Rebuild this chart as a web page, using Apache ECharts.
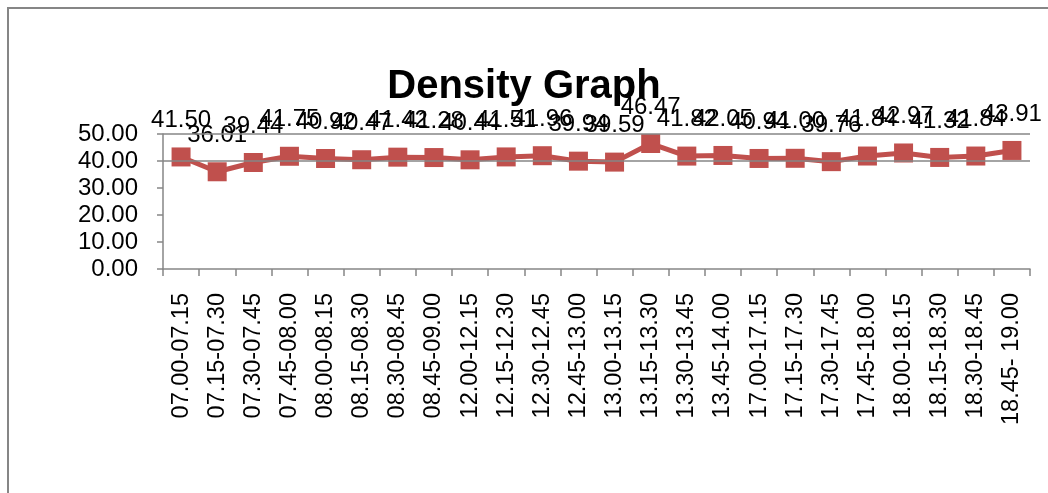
<!DOCTYPE html>
<html>
<head>
<meta charset="utf-8">
<script src="https://cdn.jsdelivr.net/npm/echarts@6/dist/echarts.min.js"></script>
<style>
  html, body { margin: 0; padding: 0; background: #fff; }
  #chart { width: 1048px; height: 493px; }
</style>
</head>
<body>
<div id="chart"></div>
<script>
// time slots on the x axis
var slots = ['07.00-07.15', '07.15-07.30', '07.30-07.45', '07.45-08.00', '08.00-08.15', '08.15-08.30',
  '08.30-08.45', '08.45-09.00', '12.00-12.15', '12.15-12.30', '12.30-12.45', '12.45-13.00',
  '13.00-13.15', '13.15-13.30', '13.30-13.45', '13.45-14.00', '17.00-17.15', '17.15-17.30',
  '17.30-17.45', '17.45-18.00', '18.00-18.15', '18.15-18.30', '18.30-18.45', '18.45- 19.00'];
// density per slot
var density = [41.50, 36.01, 39.44, 41.75, 40.92, 40.47, 41.42, 41.28, 40.44, 41.51, 41.96, 39.94,
  39.59, 46.47, 41.82, 42.05, 40.94, 41.00, 39.76, 41.84, 42.97, 41.32, 41.84, 43.91];
// y ticks
var yMin = 0, yMax = 50, yStep = 10;
var gridLevels = [40, 50];

var font = 'Liberation Sans';
var myChart = echarts.init(document.getElementById('chart'));
myChart.setOption({
  animation: false,
  title: {
    text: 'Density Graph',
    left: 'center',
    top: 62,
    textStyle: { fontFamily: font, fontSize: 40, fontWeight: 'bold', color: '#000' }
  },
  graphic: [{
    type: 'rect',
    shape: { x: 8, y: 8, width: 1200, height: 600 },
    style: { fill: 'none', stroke: '#868686', lineWidth: 2 },
    silent: true
  }],
  grid: { left: 163, right: 18, top: 134, bottom: 224 },
  xAxis: {
    type: 'category',
    data: slots,
    boundaryGap: true,
    axisLine: { lineStyle: { color: '#868686', width: 1.5 } },
    axisTick: { show: true, interval: 0, length: 7, lineStyle: { color: '#868686', width: 1.5 } },
    axisLabel: { interval: 0, rotate: 90, margin: 24, fontFamily: font, fontSize: 23.5, color: '#000' }
  },
  yAxis: {
    type: 'value',
    min: yMin,
    max: yMax,
    interval: yStep,
    splitLine: { show: false },
    axisLine: { show: true, lineStyle: { color: '#868686', width: 1.5 } },
    axisTick: { show: true, length: 6, lineStyle: { color: '#868686', width: 1.5 } },
    axisLabel: {
      margin: 25,
      fontFamily: font,
      fontSize: 24,
      color: '#000',
      formatter: function (v) { return v.toFixed(2); }
    }
  },
  series: [{
    type: 'line',
    data: density,
    symbol: 'rect',
    symbolSize: 19,
    itemStyle: { color: '#C0504D' },
    lineStyle: { color: '#C0504D', width: 5 },
    label: {
      show: true,
      position: 'top',
      distance: 15,
      fontFamily: font,
      fontSize: 24,
      color: '#000',
      formatter: function (p) { return p.value.toFixed(2); }
    },
    labelLayout: { hideOverlap: false },
    markLine: {
      silent: true,
      symbol: 'none',
      label: { show: false },
      lineStyle: { color: '#868686', width: 1.5, type: 'solid' },
      data: gridLevels.map(function (v) { return { yAxis: v }; })
    },
    z: 3
  }]
});
</script>
</body>
</html>
